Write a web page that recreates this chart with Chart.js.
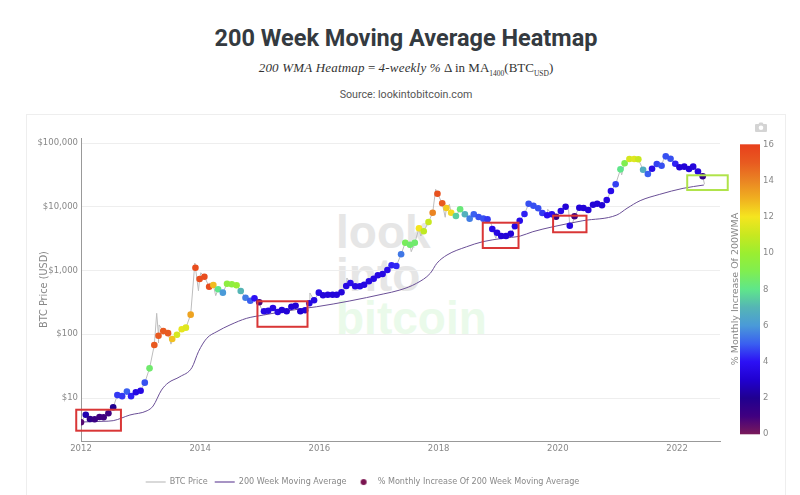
<!DOCTYPE html>
<html><head><meta charset="utf-8">
<style>
html,body{margin:0;padding:0;width:800px;height:495px;overflow:hidden;background:#fff}
.t{position:absolute;left:0;width:812px;text-align:center;white-space:nowrap}
#title{top:22px;font:700 23.5px/32px Roboto,sans-serif;color:#343a40}
#sub{top:60px;font:13px/16px "Liberation Serif",serif;color:#333}
#sub i{letter-spacing:.2px}
#sub sub{font-size:7.5px;line-height:0}
#src{top:88px;font:400 10.7px/14px Roboto,sans-serif;color:#555}
#card{position:absolute;left:26px;top:114px;width:760px;height:400px;border:1px solid #eee;box-sizing:border-box}
.wm{position:absolute;left:336px;font:700 46px/46px "Liberation Sans",sans-serif}
#chart{position:absolute;left:0;top:0}
#cam{position:absolute;left:755px;top:122px}
</style></head><body>
<div id="title" class="t">200 Week Moving Average Heatmap</div>
<div id="sub" class="t"><i>200 WMA Heatmap</i> = <i>4-weekly %</i> Δ in MA<sub>1400</sub>(BTC<sub>USD</sub>)</div>
<div id="src" class="t">Source: lookintobitcoin.com</div>
<div id="card"></div>
<div class="wm" style="top:209px;color:#e6e6e6">look</div>
<div class="wm" style="top:252px;color:#e6e6e6">into</div>
<div class="wm" style="top:295px;color:#eafaea">bitcoin</div>
<canvas id="chart" width="800" height="495"></canvas>
<svg id="cam" width="12" height="10" viewBox="0 0 12 10"><path fill="#d4d4d4" d="M1 2h2.5l1-1.5h3l1 1.5H11a1 1 0 0 1 1 1v6a1 1 0 0 1-1 1H1a1 1 0 0 1-1-1V3a1 1 0 0 1 1-1zm5 1.5a2.3 2.3 0 1 0 0 4.6 2.3 2.3 0 0 0 0-4.6z"/></svg>
<script src="https://cdn.jsdelivr.net/npm/chart.js@4"></script>
<script>
const heatDates = [2012.00,2012.08,2012.15,2012.23,2012.31,2012.38,2012.46,2012.54,2012.61,2012.69,2012.77,2012.84,2012.92,
2013.00,2013.07,2013.15,2013.23,2013.30,2013.38,2013.46,2013.53,2013.61,2013.69,2013.76,2013.84,2013.92,2013.99,
2014.07,2014.15,2014.22,2014.30,2014.38,2014.45,2014.53,2014.61,2014.68,2014.76,2014.84,2014.91,2014.99,
2015.07,2015.14,2015.22,2015.30,2015.37,2015.45,2015.53,2015.60,2015.68,2015.76,2015.83,2015.91,2015.99,
2016.06,2016.14,2016.22,2016.29,2016.37,2016.45,2016.52,2016.60,2016.68,2016.75,2016.83,2016.91,2016.98,
2017.06,2017.14,2017.21,2017.29,2017.37,2017.44,2017.52,2017.60,2017.67,2017.75,2017.83,2017.90,2017.98,
2018.06,2018.13,2018.21,2018.29,2018.36,2018.44,2018.52,2018.59,2018.67,2018.75,2018.82,2018.90,2018.98,
2019.05,2019.13,2019.21,2019.28,2019.36,2019.44,2019.51,2019.59,2019.67,2019.74,2019.82,2019.90,2019.97,
2020.05,2020.13,2020.20,2020.28,2020.36,2020.43,2020.51,2020.59,2020.66,2020.74,2020.82,2020.89,2020.97,
2021.05,2021.12,2021.20,2021.28,2021.35,2021.43,2021.51,2021.58,2021.66,2021.74,2021.81,2021.89,2021.97,
2022.04,2022.12,2022.20,2022.27,2022.35,2022.43];
const heatPrices = [4.16,5.47,4.69,4.63,5.04,4.98,5.75,7.15,11.1,10.7,12.6,10.7,12.3,13.0,17.4,29.2,67.8,94.8,112,104,84.2,98.4,120,127,203,
1107,736,800,557,592,507,449,621,608,586,477,374,336,366,317,
229,234,258,223,240,229,270,280,229,238,306,341,449,408,417,417,417,455,571,637,565,565,598,677,743,841,881,1019,1208,1177,1795,2729,2541,2729,
4592,4121,5768,8072,16032,11324,9550,8072,7161,9120,7621,6501,7621,6902,6501,6353,4477,3917,3475,3475,3776,4932,6039,
7691,11169,10377,9464,7980,7345,7621,6982,8570,10023,5047,7079,9661,9550,8892,10764,11169,10544,12764,17660,22490,38637,48084,56100,56100,55500,38100,32650,39550,46880,44080,61800,56750,47300,41600,42550,39100,42550,35650,30060];
const heatValues = [0.6,2.5,1.5,1.2,1,1,1,2,4.5,4.5,5,4.2,3.5,3.5,4.8,8.5,15,15,15,15,12.7,11.3,11.7,11.5,13.3,
15.5,15.5,15.5,15.5,12.8,8,6,9.5,9.5,9.8,7,5.5,5,4,0.8,
3.5,3.5,3.5,3.5,3.2,3.2,3.2,3.2,3,3.2,3.5,3.5,3.6,3.3,3.3,3.3,3.3,3.3,3.5,3.7,3.5,3.5,3.5,3.5,3.5,3.5,3.5,3.7,4.2,4.3,5.4,8.8,8.5,8.5,
12,10.8,11,14,15.3,15,12.5,12.2,7.5,8.3,6.8,5.5,5,4.8,4.8,4.5,3.6,3.5,3.2,3.2,3.2,3.5,3.7,
4.2,4.8,4.8,4.8,4.5,3.8,3.8,1.2,3.5,3.2,3.5,1,3.2,3.2,3.2,3.2,3.2,3.2,3.4,3.7,4.6,8,9,11.3,11.5,11,6.7,5,3.6,4.6,4.8,4.8,4.8,4.2,3.2,3.2,3.2,3.3,3.3,1.5];
const spikeDates = [2013.27,2013.30,2013.31,2013.51,2013.91,2013.97,2014.01,2014.16,2014.26,2015.02,2015.84,2016.46,2017.54,2017.70,2017.95,2018.11,2018.18,2018.88,2018.96,2019.83,2020.18,2020.24,2021.07,2021.77,2022.46];
const spikePrices = [213,73,140,70,1312,482,923,637,403,258,444,762,1972,3475,18800,6840,10900,5500,3200,9120,8900,5200,31500,54000,22500];
const maDates = [2012.00,2012.37,2012.54,2012.82,2013.11,2013.21,2013.35,2013.46,2013.66,2013.86,2013.97,2014.11,2014.28,2014.50,2014.78,2015.06,2015.34,2015.67,2015.95,2016.51,2017.07,2017.35,2017.63,2017.86,2017.97,2018.14,2018.47,2018.74,2019.08,2019.37,2019.58,2019.92,2020.42,2020.99,2021.16,2021.38,2021.71,2022.10,2022.45];
const maPrices = [4.2,4.31,4.41,5.41,6.32,7.49,13.3,17.2,21.6,29.9,53.2,86.4,110,140,178,200,223,249,270,333,428,494,630,904,1297,1750,2360,2830,3200,3475,4060,4860,6040,7430,9460,12450,15670,19450,21930];
const xTicks = [2012,2014,2016,2018,2020,2022];
const yTicks = [10,100,1000,10000,100000];
const barTicks = [0,2,4,6,8,10,12,14,16];
const redBoxes = [[2011.92,2012.67,3.07,6.55],[2014.96,2015.80,131,329],[2018.74,2019.34,2254,5620],[2019.92,2020.48,3980,7240]];
const greenBoxes = [[2022.17,2022.85,18300,31150]];

const stops = [[0,'#7a1a5a'],[1,'#400080'],[2,'#200090'],[3,'#2000d0'],[4,'#2c10f5'],[5,'#3a60f0'],[6,'#4a9ad8'],[7,'#55b5b5'],[8,'#5fe68a'],[9,'#80ee50'],[10,'#9bee30'],[11,'#c8e820'],[12,'#f5e51f'],[13,'#f0b020'],[14,'#ea8423'],[15,'#e85a20'],[16,'#e8401c']];
const rgb = h => [1,3,5].map(i => parseInt(h.substr(i,2),16));
function heatColor(v){
  for(let i=1;i<stops.length;i++){
    if(v<=stops[i][0]){
      const a=rgb(stops[i-1][1]),b=rgb(stops[i][1]),t=(v-stops[i-1][0])/(stops[i][0]-stops[i-1][0]);
      return 'rgb('+a.map((c,k)=>Math.round(c+(b[k]-c)*t)).join(',')+')';
    }
  }
  return stops[stops.length-1][1];
}
const toPts = (xs,ys) => xs.map((x,i)=>({x,y:ys[i]}));
const btcPts = toPts(heatDates,heatPrices).concat(toPts(spikeDates,spikePrices)).sort((a,b)=>a.x-b.x);
const FONT = '"DejaVu Sans",sans-serif';
const GREY = '#888';
const dot = document.createElement('canvas'); dot.width=8; dot.height=8;
{const c=dot.getContext('2d'); c.fillStyle='#7a1450'; c.beginPath(); c.arc(4,4,3,0,7); c.fill();}

const overlay = {
  id:'overlay',
  afterLayout(chart){
    const l=chart.legend; l.left-=37.5; l.right-=37.5; l.top=471;
  },
  afterDatasetsDraw(chart){
    const {ctx,scales:{x,y,bar}}=chart;
    ctx.save();
    const draw=(boxes,color)=>{ctx.strokeStyle=color;ctx.lineWidth=2;boxes.forEach(b=>{
      const l=x.getPixelForValue(b[0]),r=x.getPixelForValue(b[1]),t=y.getPixelForValue(b[3]),m=y.getPixelForValue(b[2]);
      ctx.strokeRect(l,t,r-l,m-t);});};
    draw(redBoxes,'#d93636'); draw(greenBoxes,'#b0e34a');
    const top=bar.getPixelForValue(16),bot=bar.getPixelForValue(0);
    const g=ctx.createLinearGradient(0,bot,0,top);
    stops.forEach(s=>g.addColorStop(s[0]/16,s[1]));
    ctx.fillStyle=g; ctx.fillRect(740,top,20,bot-top);
    ctx.translate(735.5,289); ctx.rotate(-Math.PI/2);
    ctx.fillStyle=GREY; ctx.font='9.5px '+FONT; ctx.textAlign='center'; ctx.textBaseline='middle';
    ctx.fillText('% Monthly Increase Of 200WMA',0,0);
    ctx.restore();
  }
};

new Chart(document.getElementById('chart'),{
  type:'line',
  data:{datasets:[
    {label:'BTC Price',data:btcPts,borderColor:'#bdbdbd',borderWidth:1,pointRadius:0,order:3},
    {label:'200 Week Moving Average',data:toPts(maDates,maPrices),borderColor:'#6a4f96',borderWidth:1,pointRadius:0,cubicInterpolationMode:'monotone',order:2},
    {label:'% Monthly Increase Of 200 Week Moving Average',data:toPts(heatDates,heatPrices),showLine:false,pointRadius:3.3,pointBorderWidth:0,
      pointBackgroundColor:c=>heatColor(heatValues[c.dataIndex]),order:1}
  ]},
  options:{
    responsive:false,animation:false,devicePixelRatio:1,
    layout:{padding:{top:138,left:0,right:0,bottom:0}},
    plugins:{title:{display:false},tooltip:{enabled:false},
      legend:{display:true,position:'bottom',labels:{usePointStyle:true,pointStyleWidth:20,padding:7,color:GREY,font:{family:FONT,size:8.1},
        generateLabels:ch=>[
          {text:'BTC Price',pointStyle:'line',strokeStyle:'#cccccc',lineWidth:1.5,fontColor:GREY,datasetIndex:0},
          {text:'200 Week Moving Average',pointStyle:'line',strokeStyle:'#8a70b0',lineWidth:1.5,fontColor:GREY,datasetIndex:1},
          {text:'% Monthly Increase Of 200 Week Moving Average',pointStyle:dot,lineWidth:0,fontColor:GREY,datasetIndex:2}
        ]}}},
    scales:{
      x:{type:'linear',min:2012,max:2022.72,grid:{display:false,drawTicks:false},border:{color:'#999'},
        afterFit:s=>{s.height=54-(s.chart.legend?s.chart.legend.height:0);},
        afterBuildTicks:s=>{s.ticks=xTicks.map(v=>({value:v}));},
        ticks:{color:GREY,font:{family:FONT,size:8.5},padding:3,maxRotation:0,autoSkip:false,callback:v=>String(v)}},
      y:{type:'logarithmic',min:2.116,max:119800,grid:{color:'#eee',drawTicks:false},border:{color:'#999'},
        afterFit:s=>{s.width=81;},
        afterBuildTicks:s=>{s.ticks=yTicks.map(v=>({value:v}));},
        title:{display:true,text:'BTC Price (USD)',color:GREY,font:{family:FONT,size:9.7},padding:{top:39,bottom:0}},
        ticks:{color:GREY,font:{family:FONT,size:8.5},padding:3,autoSkip:false,callback:v=>'$'+Number(v).toLocaleString('en-US')}},
      bar:{type:'linear',position:'right',min:-0.37,max:16.348,grid:{display:false,drawOnChartArea:false,drawTicks:false},border:{display:false},
        afterFit:s=>{s.width=80;},
        afterBuildTicks:s=>{s.ticks=barTicks.map(v=>({value:v}));},
        ticks:{color:GREY,font:{family:FONT,size:8.5},padding:43,autoSkip:false,callback:v=>String(v)}}
    }
  },
  plugins:[overlay]
});
</script>
</body></html>
